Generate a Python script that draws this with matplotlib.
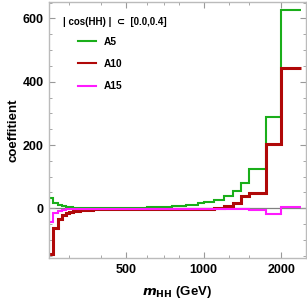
import matplotlib
matplotlib.use("Agg")
import matplotlib.pyplot as plt
from matplotlib.lines import Line2D

plt.rcParams['font.family'] = ['Liberation Sans', 'DejaVu Sans']
plt.rcParams['font.weight'] = 'bold'

# bin edges in m_HH (GeV)
edges = [250, 260, 270, 280, 290, 300, 310, 320, 330, 340, 350, 360, 370, 380, 390,
         400, 420, 440, 460, 480, 500, 550, 600, 650, 700, 750, 800, 850, 900, 950,
         1000, 1100, 1200, 1300, 1400, 1500, 1750, 2000, 2400]

A5 = [32, 16, 10, 6, 4, 3, 2, 1.5, 1, 1, 0.5, 0.5, 0.5, 0.5, 0.5,
      0.5, 0.5, 0.5, 0.5, 0.5, 1.5, 2, 3, 4, 5, 6, 8, 10, 10, 16,
      21, 26, 40, 56, 79, 124, 289, 627]
A10 = [-145, -61, -35, -21, -16, -12, -9, -7, -6, -5, -4, -4, -3, -3, -3,
       -3, -3, -2, -2, -2, -2, -2, -3, -3, -3, -3, -3, -3, -3, -2,
       -1, 1, 7, 16, 40, 47, 203, 445]
A15 = [-44, -16, -8, -5, -3, -2, -2, -1.5, -1, -1, -1, -1, -1, -1, -1,
       -1, -1, -1, -1, -1, -1, -1, -1, -1.5, -1.5, -2, -2, -2, -2, -2,
       -2, -3, -3, -3, -3, -4, -18, 5]

series = [("A5", A5, "#1aae1a", 1.5),
          ("A10", A10, "#b00808", 2.2),
          ("A15", A15, "#ff1aff", 1.5)]

legend_title = "| cos(HH) |  \u2282  [0.0,0.4]"

xticks_major = [500, 1000, 2000]
xticks_minor = [300, 400, 600, 700, 800, 1250, 1500]
yticks_major = [0, 200, 400, 600]

fig = plt.figure(figsize=(3.07, 3.03), dpi=100)
ax = fig.add_axes([49/307, 45/303, 257/307, 256/303])

ax.axhline(0, color="#808080", lw=0.9, zorder=1)
for name, vals, col, lw in series:
    ax.stairs(vals, edges, baseline=None, color=col, lw=lw, zorder=2)

ax.set_xscale('log')
ax.set_xlim(250, 2500)
ax.set_ylim(-157, 652)

ax.set_xticks(xticks_major)
ax.set_xticklabels([str(v) for v in xticks_major])
ax.set_xticks(xticks_minor, minor=True)
ax.set_xticklabels([], minor=True)
ax.set_yticks(yticks_major)
ax.set_yticks(range(-150, 651, 50), minor=True)

for s in ax.spines.values():
    s.set_color("#bbbbbb")
    s.set_linewidth(1.0)

ax.tick_params(axis='both', which='major', direction='in', length=4, width=0.8,
               color="#999999", labelsize=9, top=True, right=True, pad=4)
ax.tick_params(axis='both', which='minor', direction='in', length=2, width=0.6,
               color="#999999", top=True, right=True)
for lab in ax.get_xticklabels() + ax.get_yticklabels():
    lab.set_fontweight('bold')

ax.set_ylabel("coeffitient", fontsize=9.5, fontweight='bold', labelpad=2)
ax.set_xlabel(r"$\boldsymbol{m}_{\mathbf{HH}}$ (GeV)", fontsize=9.5, fontweight='bold', labelpad=6)

ax.text(0.053, 0.923, legend_title, transform=ax.transAxes, fontsize=7,
        fontweight='bold', va='center', ha='left')

handles = [Line2D([0], [0], color=c, lw=1.5) for _, _, c, _ in series]
labels = [n for n, _, _, _ in series]
leg = ax.legend(handles, labels, loc='upper left', bbox_to_anchor=(0.113, 0.864),
                frameon=False, fontsize=7.3, handlelength=1.8, handletextpad=0.7,
                labelspacing=1.2, borderpad=0, borderaxespad=0,
                prop={'weight': 'bold', 'size': 7.3})

fig.savefig("out.png", dpi=100)
